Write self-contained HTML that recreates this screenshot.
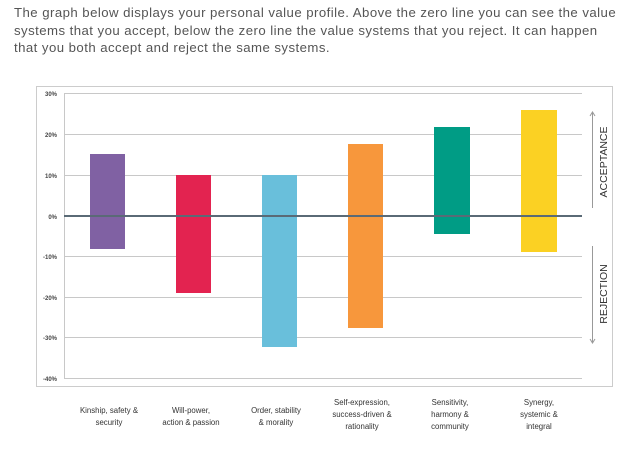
<!DOCTYPE html>
<html><head><style>
body{margin:0;width:637px;height:461px;background:#fff;overflow:hidden;font-family:"Liberation Sans",sans-serif}
.t{position:absolute;left:14px;top:4px;width:630px;font-size:13.2px;line-height:17.5px;color:#555;white-space:nowrap;letter-spacing:0.45px}
</style></head><body>
<div class="t">The graph below displays your personal value profile. Above the zero line you can see the value<br>systems that you accept, below the zero line the value systems that you reject. It can happen<br>that you both accept and reject the same systems.</div>
<svg width="637" height="461" style="position:absolute;left:0;top:0" font-family="Liberation Sans, sans-serif">
<rect x="36.5" y="86.5" width="576" height="300" fill="none" stroke="#ccc"/>
<g stroke="#c8c8c8" stroke-width="1">
<line x1="64" x2="582" y1="93.5" y2="93.5"/><line x1="64" x2="582" y1="134.5" y2="134.5"/>
<line x1="64" x2="582" y1="175.5" y2="175.5"/><line x1="64" x2="582" y1="256.5" y2="256.5"/>
<line x1="64" x2="582" y1="297.5" y2="297.5"/><line x1="64" x2="582" y1="337.5" y2="337.5"/>
<line x1="64" x2="582" y1="378.5" y2="378.5"/><line x1="64.5" x2="64.5" y1="93" y2="379"/>
</g>
<g font-size="6" font-weight="bold" fill="#444" text-anchor="end">
<text x="57" y="96">30%</text><text x="57" y="137">20%</text><text x="57" y="178">10%</text><text x="57" y="219">0%</text>
<text x="57" y="259">-10%</text><text x="57" y="300">-20%</text><text x="57" y="340">-30%</text><text x="57" y="381">-40%</text>
</g>
<rect x="90" y="154" width="35" height="95" fill="#8061a3"/>
<rect x="176" y="175" width="35" height="118" fill="#e32350"/>
<rect x="262" y="175" width="35" height="172" fill="#69bfdb"/>
<rect x="348" y="144" width="35" height="184" fill="#f7973c"/>
<rect x="434" y="127" width="36" height="107" fill="#009c85"/>
<rect x="521" y="110" width="36" height="142" fill="#fbd123"/>
<line x1="64" x2="582" y1="216" y2="216" stroke="#5a6a76" stroke-width="2"/>
<g stroke="#999" stroke-width="1" fill="none">
<line x1="592.5" x2="592.5" y1="113" y2="208"/><path d="M590,116 L592.5,112 L595,116"/>
<line x1="592.5" x2="592.5" y1="246" y2="342"/><path d="M590,339 L592.5,343 L595,339"/>
</g>
<g font-size="10.5" fill="#333" text-anchor="middle">
<text transform="translate(607,162) rotate(-90)">ACCEPTANCE</text>
<text transform="translate(607,294) rotate(-90)">REJECTION</text>
</g>
<g font-size="7.8" fill="#333" text-anchor="middle">
<text x="109" y="413">Kinship, safety &amp;</text><text x="109" y="425">security</text>
<text x="191" y="413">Will-power,</text><text x="191" y="425">action &amp; passion</text>
<text x="276" y="413">Order, stability</text><text x="276" y="425">&amp; morality</text>
<text x="362" y="405">Self-expression,</text><text x="362" y="417">success-driven &amp;</text><text x="362" y="429">rationality</text>
<text x="450" y="405">Sensitivity,</text><text x="450" y="417">harmony &amp;</text><text x="450" y="429">community</text>
<text x="539" y="405">Synergy,</text><text x="539" y="417">systemic &amp;</text><text x="539" y="429">integral</text>
</g>
</svg>
</body></html>
